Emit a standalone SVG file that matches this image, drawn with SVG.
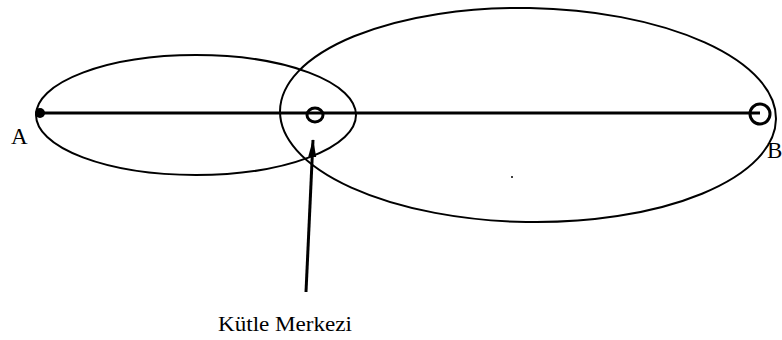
<svg xmlns="http://www.w3.org/2000/svg" width="782" height="340" viewBox="0 0 782 340">
<style>
.o{fill:none;stroke:#000;stroke-width:2}
</style>
<defs>
<marker id="ah" markerWidth="18" markerHeight="10" refX="17" refY="5" orient="auto" markerUnits="userSpaceOnUse" viewBox="0 0 18 10">
<path d="M0,1 L18,5 L0,9 Z" fill="#000"/>
</marker>
</defs>
<rect width="782" height="340" fill="#fff"/>
<g id="orbits">
<ellipse class="o" cx="196" cy="115" rx="160" ry="60"/>
<ellipse class="o" cx="528" cy="115" rx="248" ry="107" transform="rotate(1 528 115)"/>
</g>
<g id="connectors">
<line x1="40" y1="113" x2="760" y2="113" stroke="#000" stroke-width="3"/>
<line x1="306" y1="292" x2="313" y2="140" stroke="#000" stroke-width="3" marker-end="url(#ah)"/>
</g>
<g id="nodeA">
<circle cx="40" cy="113" r="5" fill="#000"/>
<text x="11" y="144" font-family="Liberation Serif, serif" font-size="23" fill="#000">A</text>
</g>
<g id="nodeCM">
<ellipse cx="315" cy="115" rx="8" ry="7" fill="none" stroke="#000" stroke-width="3"/>
<text x="218" y="331" font-family="Liberation Serif, serif" font-size="21" fill="#000" textLength="134" lengthAdjust="spacingAndGlyphs">Kütle Merkezi</text>
</g>
<g id="nodeB">
<circle cx="760" cy="114" r="10" fill="none" stroke="#000" stroke-width="3"/>
<text x="767" y="158" font-family="Liberation Serif, serif" font-size="23" fill="#000">B</text>
</g>
<circle cx="512" cy="177" r="1" fill="#000"/>
</svg>
